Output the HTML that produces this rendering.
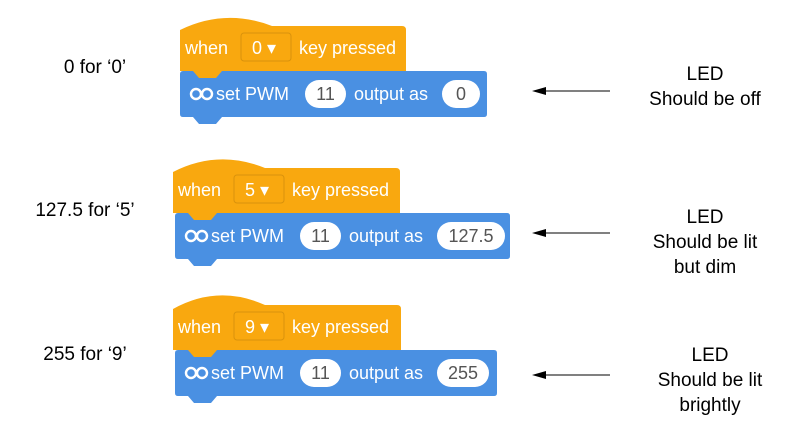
<!DOCTYPE html>
<html><head><meta charset="utf-8">
<style>
body{margin:0;background:#fff;width:799px;height:442px;overflow:hidden;font-family:"Liberation Sans",sans-serif}
svg{position:absolute;left:0;top:0}
.lbl{position:absolute;font-size:19px;color:#000;text-align:center}
</style></head><body>
<svg id="s" width="799" height="442"></svg>
<div class="lbl" style="left:40px;top:57px;width:110px">0 for ‘0’</div>
<div class="lbl" style="left:15px;top:200px;width:140px">127.5 for ‘5’</div>
<div class="lbl" style="left:20px;top:344px;width:130px">255 for ‘9’</div>
<div class="lbl" style="left:620px;top:62px;width:170px;line-height:25px">LED<br>Should be off</div>
<div class="lbl" style="left:620px;top:205px;width:170px;line-height:25px">LED<br>Should be lit<br>but dim</div>
<div class="lbl" style="left:625px;top:343px;width:170px;line-height:25px">LED<br>Should be lit<br>brightly</div>
<script>
const keys=['0','5','9'];
const values=['0','127.5','255'];
const NS='http://www.w3.org/2000/svg';
const s=document.getElementById('s');
const geo=[{x:180,hy:14,oy:26,ow:226,bx:180,bw:307,ay:91},{x:173,hy:155,oy:168,ow:227,bx:175,bw:335,ay:233},{x:173,hy:290,oy:305,ow:228,bx:175,bw:322,ay:375}];
function el(t,a,p){const e=document.createElementNS(NS,t);for(const k in a)e.setAttribute(k,a[k]);(p||s).appendChild(e);return e;}
keys.forEach((k,i)=>{
 const g=geo[i];const by=g.oy+45;
 const bx=g.bx,bw=g.bw,bh=46;
 const blue=el('path',{d:`M${bx+3},${by} L${bx+bw-3},${by} Q${bx+bw},${by} ${bx+bw},${by+3} L${bx+bw},${by+bh-3} Q${bx+bw},${by+bh} ${bx+bw-3},${by+bh} L${bx+42},${by+bh} L${bx+36},${by+bh+7} L${bx+19},${by+bh+7} L${bx+13},${by+bh} L${bx+3},${by+bh} Q${bx},${by+bh} ${bx},${by+bh-3} L${bx},${by+3} Q${bx},${by} ${bx+3},${by} Z`,fill:'#4a90e2'});
 
 const tx=g.x+(bx-g.x);
 const hat=el('path',{d:`M${g.x},${g.oy+4} Q${g.x+45},${g.hy-6} ${g.x+92},${g.oy} L${g.x+g.ow-4},${g.oy} Q${g.x+g.ow},${g.oy} ${g.x+g.ow},${g.oy+4} L${g.x+g.ow},${by} L${tx+42},${by} L${tx+36},${by+7} L${tx+19},${by+7} L${tx+13},${by} L${g.x},${by} Z`,fill:'#f9a80f'});
 
 const ty=g.oy+28;
 const f='font-family:"Liberation Sans",sans-serif;font-size:18px;fill:#fff';
 el('text',{x:g.x+5,y:ty,style:f}).textContent='when';
 const dd=el('rect',{x:g.x+61,y:g.oy+7,width:50,height:28,rx:3,fill:'#f9a80f',stroke:'#d9920c'});
 
 el('text',{x:g.x+72,y:ty,style:f}).textContent=k+' ▾';
 el('text',{x:g.x+119,y:ty,style:f}).textContent='key pressed';
 const cy=by+23;
 el('circle',{cx:bx+16,cy:cy,r:5,fill:'none',stroke:'#fff','stroke-width':2.4});
 el('circle',{cx:bx+27,cy:cy,r:5,fill:'none',stroke:'#fff','stroke-width':2.4});
 el('text',{x:bx+36,y:cy+6,style:f}).textContent='set PWM';
 const p1=el('rect',{x:bx+125,y:cy-14,width:41,height:28,rx:14,fill:'#fff'});
 
 el('text',{x:bx+145.5,y:cy+6,'text-anchor':'middle',style:'font-family:"Liberation Sans",sans-serif;font-size:18px;fill:#555'}).textContent='11';
 el('text',{x:bx+174,y:cy+6,style:f}).textContent='output as';
 const w=values[i].length>2?(values[i].length>3?68:52):38;
 const p2=el('rect',{x:bx+262,y:cy-14,width:w,height:28,rx:14,fill:'#fff'});
 
 el('text',{x:bx+262+w/2,y:cy+6,'text-anchor':'middle',style:'font-family:"Liberation Sans",sans-serif;font-size:18px;fill:#555'}).textContent=values[i];
 const ln=el('line',{x1:545,y1:g.ay,x2:610,y2:g.ay,stroke:'#000','stroke-width':1});
 
 el('path',{d:`M532,${g.ay} L546,${g.ay-4} L546,${g.ay+4} Z`,fill:'#000'});
});
</script>
</body></html>
